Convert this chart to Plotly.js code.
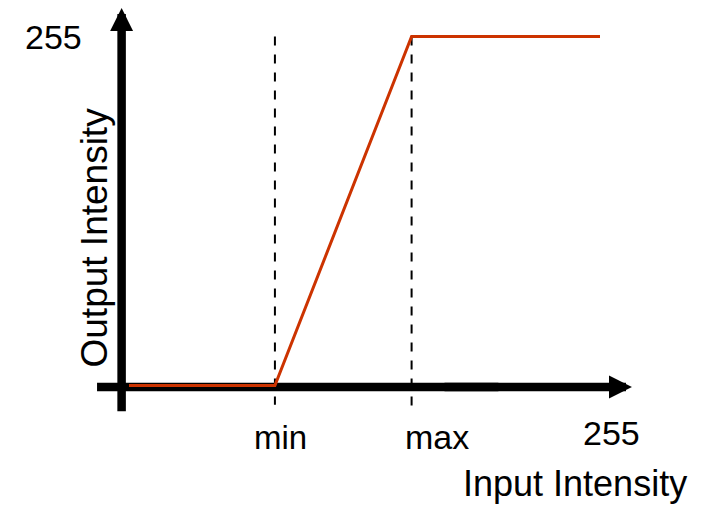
<!DOCTYPE html>
<html>
<head>
<meta charset="utf-8">
<script src="https://cdn.plot.ly/plotly-3.0.1.min.js"></script>
<style>
  html, body { margin: 0; padding: 0; background: #ffffff; }
  #chart { width: 707px; height: 505px; }
</style>
</head>
<body>
<div id="chart"></div>
<script>
// ---- data ----
const minVal = 79;
const maxVal = 153;
const fullScale = 255;
const inputLevels = [0, minVal, maxVal, fullScale];
const outputLevels = [0, 0, fullScale, fullScale];
const xTickValues = [minVal, maxVal, fullScale];
const xTickTexts = ["min", "max", "255"];
const yTickText = "255";
const xAxisTitle = "Input Intensity";
const yAxisTitle = "Output Intensity";

// ---- layout constants ----
const FONT = "Liberation Sans, Arial, Helvetica, sans-serif";
const axisPosX = -4;      // where the vertical axis sits (input units)
const axisPosY = -1.1;    // where the horizontal axis sits (output units)
const guideBottom = -14;  // dashed guides extend a bit below the axis
const axisW = 8.5;

const traces = [
  {
    x: [minVal, minVal], y: [fullScale, guideBottom],
    mode: "lines", line: {color: "#000000", width: 2, dash: "dash"},
    hoverinfo: "skip"
  },
  {
    x: [maxVal, maxVal], y: [fullScale, guideBottom - 1.5],
    mode: "lines", line: {color: "#000000", width: 2, dash: "dash"},
    hoverinfo: "skip"
  },
  {
    x: inputLevels, y: outputLevels,
    mode: "lines", line: {color: "#CC3300", width: 3},
    hoverinfo: "skip"
  }
];

const annotations = [
  // vertical axis arrow
  {
    xref: "x", yref: "y", axref: "x", ayref: "y",
    x: axisPosX, y: 275.8, ax: axisPosX, ay: -20,
    text: "", showarrow: true, arrowhead: 2,
    arrowwidth: axisW, arrowsize: 0.54, arrowcolor: "#000000", standoff: 0
  },
  // horizontal axis arrow head part
  {
    xref: "x", yref: "y", axref: "x", ayref: "y",
    x: 272.3, y: axisPosY, ax: 170, ay: axisPosY,
    text: "", showarrow: true, arrowhead: 2,
    arrowwidth: axisW, arrowsize: 0.54, arrowcolor: "#000000", standoff: 0
  },
  // y tick label
  {
    xref: "x", yref: "y", x: axisPosX, y: fullScale,
    xanchor: "center", yanchor: "middle", xshift: -68, yshift: 0,
    text: yTickText, showarrow: false,
    font: {family: FONT, size: 34, color: "#000000"}
  },
  // axis titles
  {
    xref: "paper", yref: "paper", x: 575 / 707, y: 1 - 483 / 505,
    xanchor: "center", yanchor: "middle",
    text: xAxisTitle, showarrow: false,
    font: {family: FONT, size: 36, color: "#000000"}
  },
  {
    xref: "paper", yref: "paper", x: 93.5 / 707, y: 1 - 237 / 505,
    xanchor: "center", yanchor: "middle", textangle: -90,
    text: yAxisTitle, showarrow: false,
    font: {family: FONT, size: 37, color: "#000000"}
  }
];

const tickShifts = [6, 25, 11];
const tickSizes = [33, 34, 34];
const tickY = [1 - 437 / 505, 1 - 437 / 505, 1 - 433 / 505];
xTickValues.forEach(function (v, i) {
  annotations.push({
    xref: "x", yref: "paper", x: v, y: tickY[i],
    xanchor: "center", yanchor: "middle", xshift: tickShifts[i],
    text: xTickTexts[i], showarrow: false,
    font: {family: FONT, size: tickSizes[i], color: "#000000"}
  });
});

const layout = {
  width: 707, height: 505,
  margin: {l: 0, r: 0, t: 0, b: 0, pad: 0},
  paper_bgcolor: "#ffffff", plot_bgcolor: "#ffffff",
  showlegend: false, hovermode: false,
  xaxis: {range: [-69.84, 312.93], visible: false, fixedrange: true},
  yaxis: {range: [-87.32, 281.68], visible: false, fixedrange: true},
  shapes: [
    {
      type: "line", layer: "below", xref: "x", yref: "y",
      x0: -17.3, x1: 200, y0: axisPosY, y1: axisPosY,
      line: {color: "#000000", width: axisW}
    }
  ],
  annotations: annotations
};

Plotly.newPlot("chart", traces, layout, {staticPlot: true, displayModeBar: false});
</script>
</body>
</html>
